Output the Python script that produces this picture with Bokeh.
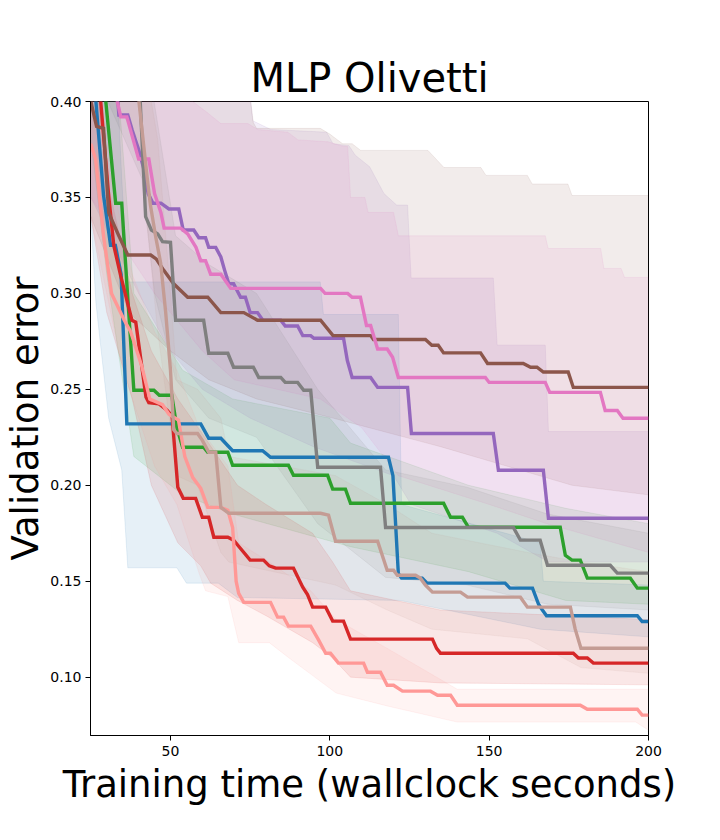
import numpy as np
from bokeh.plotting import figure
from bokeh.models import FixedTicker, PrintfTickFormatter, Range1d
from bokeh.embed import file_html
from bokeh.resources import INLINE

# ---------------- data ----------------
x_ticks = [50, 100, 150, 200]
y_ticks = [0.10, 0.15, 0.20, 0.25, 0.30, 0.35, 0.40]

# mean curves: time (s) and validation error
blue_t = [25, 26.6, 29, 31.2, 32.7, 34.5, 36.3, 59.5, 62, 65.8, 69.5, 78.9, 81.4, 118.4, 119.8, 121.5, 122.5, 129, 130.5, 155, 156.5, 163.6, 165.5, 166.7, 168, 196.5, 198, 200]
blue_v = [0.44, 0.40, 0.351, 0.325, 0.325, 0.31, 0.232, 0.232, 0.2245, 0.2245, 0.218, 0.218, 0.2146, 0.2146, 0.205, 0.154, 0.1516, 0.1516, 0.149, 0.149, 0.1464, 0.1464, 0.138, 0.135, 0.132, 0.132, 0.129, 0.129]

green_t = [25, 29.7, 32.8, 34.7, 36.5, 38.5, 44.8, 46.5, 50.4, 52, 53.8, 60.4, 61.7, 68, 69.5, 87, 88.6, 99.3, 100.9, 104.9, 106.5, 135.7, 137.9, 141.6, 143.5, 172.3, 173.9, 176, 178.6, 180.8, 194.3, 196.5, 200]
green_v = [0.47, 0.40, 0.347, 0.347, 0.30, 0.2495, 0.2495, 0.2469, 0.2469, 0.23, 0.2198, 0.2198, 0.2172, 0.2172, 0.2104, 0.2104, 0.2052, 0.2052, 0.198, 0.198, 0.1906, 0.1906, 0.1833, 0.1833, 0.1781, 0.1781, 0.1635, 0.161, 0.161, 0.1516, 0.1516, 0.1464, 0.1464]

red_t = [25, 28.1, 30.6, 32.2, 34.4, 37.9, 39.1, 42.3, 43.2, 46.3, 49, 50.5, 52.3, 54, 57.9, 60, 62, 63.6, 68, 69.8, 71, 75, 79.2, 81, 83, 88.6, 91.5, 93, 94.6, 98.7, 100.9, 104.3, 106.5, 132.2, 133.5, 134.7, 176.4, 178, 180.8, 182.7, 200]
red_v = [0.44, 0.40, 0.351, 0.325, 0.309, 0.286, 0.285, 0.246, 0.243, 0.2425, 0.239, 0.236, 0.199, 0.1932, 0.1932, 0.1833, 0.1833, 0.1729, 0.1729, 0.1714, 0.169, 0.161, 0.161, 0.158, 0.1568, 0.1568, 0.1469, 0.143, 0.1365, 0.1365, 0.1292, 0.1292, 0.1198, 0.1198, 0.115, 0.1125, 0.1125, 0.110, 0.110, 0.1073, 0.1073]

purple_t = [31, 33.8, 36.6, 38, 40, 41.6, 43, 44.5, 47, 49.5, 52.6, 54, 57.3, 58.9, 61, 62, 64.2, 65.8, 67, 68.3, 69.8, 72, 73.5, 75, 77.3, 79, 84.6, 86, 89.9, 91.5, 94, 95, 104.3, 105.5, 107, 112.8, 115, 124.4, 125.6, 151.3, 152.9, 167, 168.6, 200]
purple_v = [0.46, 0.393, 0.393, 0.385, 0.375, 0.365, 0.352, 0.347, 0.347, 0.344, 0.344, 0.333, 0.333, 0.329, 0.329, 0.324, 0.324, 0.319, 0.312, 0.305, 0.305, 0.298, 0.298, 0.290, 0.290, 0.286, 0.286, 0.283, 0.283, 0.278, 0.278, 0.2766, 0.2766, 0.265, 0.2562, 0.2562, 0.251, 0.251, 0.227, 0.227, 0.2078, 0.2078, 0.1828, 0.1828]

brown_t = [25, 26.8, 29, 30.6, 33.8, 36.6, 43.8, 45.5, 47.9, 51, 55.4, 61.7, 65.8, 73, 77.3, 97.1, 101, 112.8, 113.7, 130, 132, 134, 135.7, 147.3, 149.5, 160.7, 163, 165, 167, 174.8, 176.4, 200]
brown_v = [0.40, 0.387, 0.386, 0.342, 0.330, 0.320, 0.320, 0.318, 0.312, 0.305, 0.298, 0.298, 0.290, 0.290, 0.286, 0.286, 0.278, 0.278, 0.276, 0.276, 0.273, 0.273, 0.269, 0.269, 0.2635, 0.2635, 0.2615, 0.2615, 0.259, 0.259, 0.251, 0.251]

pink_t = [30, 33.3, 34.4, 36.3, 40, 43.2, 45, 47, 48, 53.2, 55.4, 58, 59.5, 61, 62.6, 65.8, 68.9, 97.1, 98.5, 105.6, 107, 109.6, 111.5, 112.8, 115, 118, 119.7, 121.5, 148.8, 150, 167.6, 169, 184.9, 186.4, 190.2, 192, 200]
pink_v = [0.48, 0.40, 0.392, 0.392, 0.37, 0.37, 0.352, 0.342, 0.334, 0.334, 0.331, 0.324, 0.317, 0.317, 0.31, 0.31, 0.3026, 0.3026, 0.300, 0.300, 0.298, 0.298, 0.2833, 0.2833, 0.271, 0.271, 0.2667, 0.2562, 0.2562, 0.2536, 0.2536, 0.2484, 0.2484, 0.239, 0.239, 0.2349, 0.2349]

gray_t = [39.5, 40.5, 42.2, 44, 46, 47.5, 50, 51.6, 60.4, 62, 68, 69.8, 76, 77.7, 84.6, 86, 89.9, 91.8, 94, 96.2, 115.9, 117.5, 157.6, 159.8, 166, 168.3, 188, 190.2, 200]
gray_v = [0.45, 0.40, 0.34, 0.333, 0.331, 0.327, 0.3266, 0.286, 0.286, 0.2688, 0.2688, 0.2615, 0.2615, 0.2562, 0.2562, 0.2536, 0.2536, 0.2495, 0.2495, 0.2094, 0.2094, 0.178, 0.178, 0.1714, 0.1714, 0.1583, 0.1583, 0.1542, 0.1542]

salmon_t = [25, 26.5, 29, 31.5, 35.5, 37.5, 41, 43.5, 47.5, 49.5, 52.5, 54.5, 57, 59.5, 61.7, 65.8, 68, 69.5, 70.6, 71.4, 73, 81.4, 83.6, 85.5, 87, 94, 96.5, 98.7, 100.2, 102.7, 110.6, 111.8, 115.9, 118, 120, 122.8, 131.6, 133.8, 137.9, 140, 178.6, 180.8, 196.5, 198, 200]
salmon_v = [0.378, 0.37, 0.33, 0.30, 0.286, 0.28, 0.262, 0.245, 0.242, 0.237, 0.234, 0.215, 0.204, 0.1984, 0.1885, 0.1885, 0.187, 0.178, 0.150, 0.1437, 0.139, 0.139, 0.1313, 0.1313, 0.1266, 0.1266, 0.1193, 0.1125, 0.1125, 0.1073, 0.1073, 0.1026, 0.1026, 0.0958, 0.0958, 0.0927, 0.0927, 0.0906, 0.0906, 0.0854, 0.0854, 0.0833, 0.0833, 0.0802, 0.0802]

tan_t = [39.5, 40.1, 42.7, 43.7, 45.3, 46.9, 48.5, 50, 51, 52, 58.5, 60, 62, 64.2, 65.8, 68.3, 97.1, 99.6, 101.8, 115, 118, 120, 121.2, 126.9, 128.4, 130, 132.2, 141, 143.2, 159.8, 162, 175.5, 177, 178.8, 200]
tan_v = [0.43, 0.40, 0.36, 0.346, 0.33, 0.316, 0.29, 0.26, 0.229, 0.227, 0.227, 0.2234, 0.2172, 0.2172, 0.1885, 0.1854, 0.1854, 0.1844, 0.1708, 0.1708, 0.1557, 0.1557, 0.1531, 0.1531, 0.1516, 0.148, 0.1443, 0.1443, 0.1417, 0.1417, 0.1365, 0.1365, 0.125, 0.1151, 0.1151]

# spread bands (upper / lower edges)
blue_hi_t = [25, 33, 34.7, 36.6, 97, 98, 121.5, 122.5, 166, 167, 200]
blue_hi = [0.44, 0.42, 0.36, 0.306, 0.306, 0.289, 0.289, 0.19, 0.17, 0.15, 0.148]
blue_lo_t = [25, 26.6, 30.6, 34.7, 36.6, 52, 55, 65, 71, 122, 166, 200]
blue_lo = [0.34, 0.295, 0.235, 0.208, 0.157, 0.157, 0.149, 0.149, 0.1415, 0.14, 0.125, 0.121]

green_hi_t = [25, 33, 38.5, 53.8, 69.5, 100, 106.5, 143.5, 174, 200]
green_hi = [0.44, 0.42, 0.30, 0.26, 0.245, 0.235, 0.222, 0.20, 0.188, 0.18]
green_lo_t = [25, 30, 38.5, 53.8, 69.5, 106.5, 143.5, 174, 200]
green_lo = [0.38, 0.31, 0.215, 0.195, 0.185, 0.168, 0.155, 0.14, 0.138]

red_hi_t = [25, 30, 38, 44, 52.3, 59.5, 71, 80, 94.6, 100.9, 106.5, 134.7, 200]
red_hi = [0.44, 0.36, 0.30, 0.27, 0.245, 0.228, 0.20, 0.19, 0.175, 0.16, 0.145, 0.135, 0.13]
red_lo_t = [25, 30, 38, 44, 52.3, 59.5, 62.6, 71, 80, 94.6, 100.9, 106.5, 134.7, 200]
red_lo = [0.34, 0.29, 0.245, 0.20, 0.17, 0.158, 0.149, 0.14, 0.132, 0.118, 0.11, 0.10, 0.097, 0.096]

purple_hi_t = [25, 73, 75.8, 81.5, 99, 101, 106, 108, 112.5, 117, 121, 124.4, 125.5, 151.3, 152.5, 167.6, 168.6, 200]
purple_hi = [0.44, 0.44, 0.39, 0.3854, 0.384, 0.378, 0.377, 0.372, 0.366, 0.352, 0.346, 0.346, 0.308, 0.308, 0.273, 0.273, 0.228, 0.228]
purple_lo_t = [25, 40, 50, 60, 75, 95, 120, 125.5, 152.5, 168.6, 200]
purple_lo = [0.35, 0.30, 0.27, 0.25, 0.235, 0.22, 0.205, 0.19, 0.175, 0.16, 0.16]

brown_hi_t = [25, 72, 76, 77, 97, 100, 104, 107, 109.7, 130.8, 135.8, 147.4, 149, 162, 163.5, 174.7, 176, 200]
brown_hi = [0.44, 0.44, 0.389, 0.386, 0.386, 0.383, 0.378, 0.378, 0.3745, 0.3745, 0.3656, 0.3656, 0.3615, 0.3615, 0.357, 0.357, 0.351, 0.351]
brown_lo_t = [25, 37, 50, 62, 77, 101, 135, 176, 200]
brown_lo = [0.34, 0.29, 0.27, 0.255, 0.245, 0.235, 0.22, 0.20, 0.195]

pink_hi_t = [25, 57, 61.7, 65.8, 74.3, 77.4, 86.8, 90, 99.4, 104.4, 105.6, 106.5, 111, 112, 120, 121.5, 167.6, 168.5, 185, 186, 191.4, 192.5, 200]
pink_hi = [0.44, 0.40, 0.394, 0.3885, 0.3885, 0.3854, 0.384, 0.38, 0.379, 0.3766, 0.3766, 0.35, 0.35, 0.3422, 0.3422, 0.330, 0.330, 0.3234, 0.3234, 0.313, 0.313, 0.3083, 0.3083]
pink_lo_t = [25, 45, 60, 70, 97, 110, 121.5, 150, 168, 200]
pink_lo = [0.35, 0.30, 0.27, 0.255, 0.245, 0.23, 0.205, 0.19, 0.18, 0.165]

gray_hi_t = [25, 41, 51.6, 62, 77, 96.2, 117.5, 143, 168.3, 200]
gray_hi = [0.44, 0.44, 0.33, 0.315, 0.30, 0.25, 0.208, 0.199, 0.185, 0.175]
gray_lo_t = [25, 41, 45, 51.6, 62, 77, 96.2, 117.5, 143, 168.3, 200]
gray_lo = [0.42, 0.36, 0.30, 0.255, 0.235, 0.225, 0.18, 0.152, 0.148, 0.138, 0.135]

salmon_hi_t = [25, 30, 38, 45, 52, 59, 68, 71.4, 81, 94, 102, 118, 140, 200]
salmon_hi = [0.42, 0.37, 0.31, 0.28, 0.26, 0.23, 0.21, 0.17, 0.16, 0.145, 0.13, 0.115, 0.0937, 0.0937]
salmon_lo_t = [25, 35, 45, 52, 59, 61, 68, 71.4, 81, 87.2, 102, 118, 140, 196, 200]
salmon_lo = [0.34, 0.26, 0.21, 0.19, 0.154, 0.145, 0.142, 0.118, 0.118, 0.11, 0.0917, 0.085, 0.0766, 0.0766, 0.0724]

tan_hi_t = [25, 40, 46, 50, 52, 58.5, 65.8, 68.3, 101.8, 118, 132, 162, 178.8, 200]
tan_hi = [0.44, 0.44, 0.38, 0.30, 0.255, 0.25, 0.235, 0.215, 0.205, 0.19, 0.175, 0.165, 0.16, 0.155]
tan_lo_t = [25, 40, 46, 50, 52, 58.5, 65.8, 68.3, 101.8, 118, 132, 162, 178.8, 200]
tan_lo = [0.42, 0.38, 0.28, 0.23, 0.205, 0.20, 0.165, 0.16, 0.148, 0.135, 0.125, 0.12, 0.105, 0.102]

series = [
    ("#1f77b4", blue_t, blue_v, blue_hi_t, blue_hi, blue_lo_t, blue_lo),
    ("#2ca02c", green_t, green_v, green_hi_t, green_hi, green_lo_t, green_lo),
    ("#d62728", red_t, red_v, red_hi_t, red_hi, red_lo_t, red_lo),
    ("#9467bd", purple_t, purple_v, purple_hi_t, purple_hi, purple_lo_t, purple_lo),
    ("#8c564b", brown_t, brown_v, brown_hi_t, brown_hi, brown_lo_t, brown_lo),
    ("#e377c2", pink_t, pink_v, pink_hi_t, pink_hi, pink_lo_t, pink_lo),
    ("#7f7f7f", gray_t, gray_v, gray_hi_t, gray_hi, gray_lo_t, gray_lo),
    ("#ff9896", salmon_t, salmon_v, salmon_hi_t, salmon_hi, salmon_lo_t, salmon_lo),
    ("#c49c94", tan_t, tan_v, tan_hi_t, tan_hi, tan_lo_t, tan_lo),
]

FONT = "DejaVu Sans"

p = figure(width=712, height=832,
           x_range=Range1d(24.9, 200), y_range=Range1d(0.0696, 0.40),
           output_backend="svg", toolbar_location=None,
           min_border_left=90, min_border_right=64,
           min_border_top=101, min_border_bottom=97,
           title="MLP Olivetti")
p.background_fill_color = "white"
p.border_fill_color = "white"
p.outline_line_color = "black"
p.outline_line_width = 1
p.grid.grid_line_color = None

p.title.align = "center"
p.title.text_font = FONT
p.title.text_font_size = "40px"
p.title.text_font_style = "normal"
p.title.text_color = "black"
p.title.standoff = 2

p.xaxis.ticker = FixedTicker(ticks=x_ticks)
p.yaxis.ticker = FixedTicker(ticks=y_ticks)
p.yaxis.formatter = PrintfTickFormatter(format="%.2f")
for ax in (p.xaxis, p.yaxis):
    ax.axis_line_color = "black"
    ax.major_tick_line_color = "black"
    ax.major_tick_in = 0
    ax.major_tick_out = 5
    ax.minor_tick_line_color = None
    ax.major_label_text_font = FONT
    ax.major_label_text_font_size = "14px"
    ax.major_label_text_color = "black"
    ax.axis_label_text_font = FONT
    ax.axis_label_text_font_size = "37px"
    ax.axis_label_text_font_style = "normal"
    ax.axis_label_text_color = "black"
p.xaxis.axis_label = "Training time (wallclock seconds)"
p.yaxis.axis_label = "Validation error"
p.xaxis.major_label_standoff = 5
p.xaxis.axis_label_standoff = 4
p.yaxis.major_label_standoff = 4
p.yaxis.axis_label_standoff = 0

# bands
for c, t, v, ht, hv, lt, lv in series:
    grid = np.union1d(ht, lt)
    hi = np.interp(grid, ht, hv)
    lo = np.interp(grid, lt, lv)
    p.varea(x=grid, y1=lo, y2=hi, fill_color=c, fill_alpha=0.11)
    p.line(grid, hi, line_color=c, line_alpha=0.1, line_width=1)
    p.line(grid, lo, line_color=c, line_alpha=0.1, line_width=1)

# mean lines
for c, t, v, ht, hv, lt, lv in series:
    p.line(t, v, line_color=c, line_width=3.4, line_join="miter")

open("out.html", "w").write(file_html(p, INLINE))
